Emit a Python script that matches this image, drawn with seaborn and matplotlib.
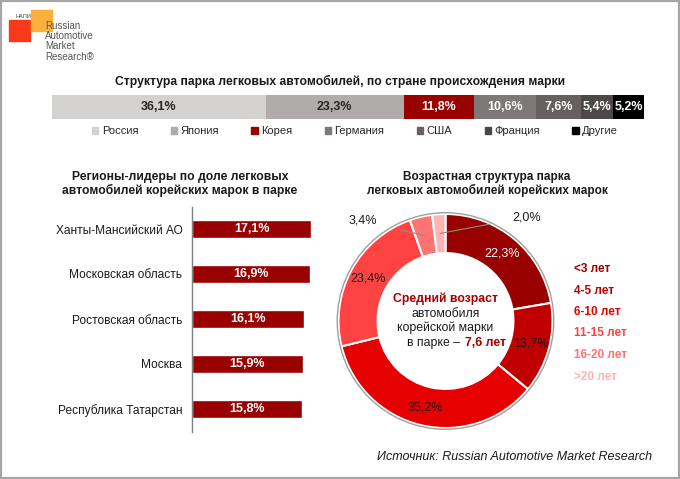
import matplotlib
matplotlib.use('Agg')
import matplotlib.pyplot as plt
import matplotlib.patches as mpatches
import seaborn as sns
import numpy as np

# --- data -------------------------------------------------------------
brands = ['Россия', 'Япония', 'Корея', 'Германия', 'США', 'Франция', 'Другие']
brand_share = [36.1, 23.3, 11.8, 10.6, 7.6, 5.4, 5.2]
brand_colors = ['#d4d1d1', '#b1acac', '#990000', '#7f7878', '#666060', '#4d4848', '#000000']
brand_text = ['#262626', '#262626', 'white', 'white', 'white', 'white', 'white']

regions = ['Ханты-Мансийский АО', 'Московская область', 'Ростовская область',
           'Москва', 'Республика Татарстан']
region_share = [17.1, 16.9, 16.1, 15.9, 15.8]

age_groups = ['<3 лет', '4-5 лет', '6-10 лет', '11-15 лет', '16-20 лет', '>20 лет']
age_share = [22.3, 13.7, 35.2, 23.4, 3.4, 2.0]
age_colors = ['#990000', '#c00000', '#e60000', '#ff4343', '#ff7373', '#ffb3b3']

DARK_RED = '#990000'
W, H = 680, 479


def fx(px):
    return px / W


def fy(py):
    return 1 - py / H


def pct(v):
    return f'{v:.1f}%'.replace('.', ',')


sns.set_theme(style='white')
plt.rcParams['font.family'] = ['Liberation Sans', 'DejaVu Sans']

fig = plt.figure(figsize=(W / 100, H / 100), dpi=100)

# --- top stacked bar -------------------------------------------------
ax_top = fig.add_axes([fx(52), fy(119), fx(592), 24 / H])
left = 0
for name, v, c, tc in zip(brands, brand_share, brand_colors, brand_text):
    bars = ax_top.barh([0], [v], left=left, height=1.0, color=c, label=name, edgecolor='none')
    ax_top.bar_label(bars, labels=[pct(v)], label_type='center', color=tc,
                     fontsize=9, fontweight='bold')
    left += v
ax_top.set_xlim(0, sum(brand_share))
ax_top.set_ylim(-0.5, 0.5)
ax_top.axis('off')
handles = [mpatches.Patch(color=c, label=b) for b, c in zip(brands, brand_colors)]
fig.legend(handles=handles, loc='center', bbox_to_anchor=(fx(355), fy(131)), ncol=7,
           frameon=False, fontsize=8, handlelength=0.6, handleheight=0.6,
           handletextpad=0.3, columnspacing=2.9)
fig.text(fx(340), fy(81), 'Структура парка легковых автомобилей, по стране происхождения марки',
         ha='center', va='center', fontsize=8.7, fontweight='bold', color='#1a1a1a')

# --- left: regions bar chart -----------------------------------------
ax_reg = fig.add_axes([fx(192), fy(431.5), fx(140), 225 / H])
sns.barplot(x=region_share, y=regions, orient='h', color=DARK_RED, saturation=1,
            width=0.4, ax=ax_reg)
ax_reg.bar_label(ax_reg.containers[0], labels=[pct(v) for v in region_share],
                 label_type='center', color='white', fontsize=9, fontweight='bold')
ax_reg.set_xlim(0, 20.1)
ax_reg.set_ylim(4.5, -0.5)
for s in ['top', 'right', 'bottom']:
    ax_reg.spines[s].set_visible(False)
ax_reg.spines['left'].set_color('#808080')
ax_reg.spines['left'].set_linewidth(1)
ax_reg.set_xticks([])
ax_reg.tick_params(axis='y', length=0, pad=7, labelsize=8.6, labelcolor='#1a1a1a')
ax_reg.set_xlabel('')
ax_reg.set_ylabel('')
fig.text(fx(180), fy(184), 'Регионы-лидеры по доле легковых\nавтомобилей корейских марок в парке',
         ha='center', va='center', fontsize=8.7, fontweight='bold', color='#1a1a1a',
         linespacing=1.15)

# --- right: donut ----------------------------------------------------
cx, cy, R = 445.5, 321, 107
half = 120
ax_pie = fig.add_axes([fx(cx - half), fy(cy + half), fx(2 * half), 2 * half / H])
lim = half / R
wedges, texts, autotexts = ax_pie.pie(
    age_share, colors=age_colors, startangle=90, counterclock=False, radius=1,
    wedgeprops=dict(width=0.365, edgecolor='white', linewidth=1.5),
    autopct=lambda p: pct(p) if p > 5 else '', pctdistance=0.825,
    textprops=dict(fontsize=9, color='#1a1a1a'))
autotexts[0].set_color('white')
ax_pie.add_patch(mpatches.Circle((0, 0), 1.012, fill=False, ec='#a0a0a0', lw=1))
ax_pie.set_xlim(-lim, lim)
ax_pie.set_ylim(-lim, lim)
ax_pie.set_aspect('equal')
ax_pie.axis('off')

# leader lines for the two small slices
for idx, txt_xy in [(4, (-0.77, 0.935)), (5, (0.76, 0.97))]:
    w = wedges[idx]
    ang = np.deg2rad((w.theta1 + w.theta2) / 2)
    pt = (0.82 * np.cos(ang), 0.82 * np.sin(ang))
    ax_pie.annotate(pct(age_share[idx]), xy=pt, xytext=txt_xy, ha='center', va='center',
                    fontsize=9, color='#1a1a1a', annotation_clip=False,
                    arrowprops=dict(arrowstyle='-', color='#8c8c8c', lw=0.8,
                                    shrinkA=14, shrinkB=0))

ax_pie.text(0, 0.206, 'Средний возраст', ha='center', va='center', fontsize=8.8,
            fontweight='bold', color='#a50000')
ax_pie.text(0, 0.065, 'автомобиля', ha='center', va='center', fontsize=8.8, color='#1a1a1a')
ax_pie.text(0, -0.065, 'корейской марки', ha='center', va='center', fontsize=8.8, color='#1a1a1a')
ax_pie.text(0.165, -0.206, 'в парке – ', ha='right', va='center', fontsize=8.8, color='#1a1a1a')
ax_pie.text(0.18, -0.206, '7,6 лет', ha='left', va='center', fontsize=8.8,
            fontweight='bold', color='#a50000')

fig.text(fx(487), fy(184), 'Возрастная структура парка\nлегковых автомобилей корейских марок',
         ha='center', va='center', fontsize=8.5, fontweight='bold', color='#1a1a1a',
         linespacing=1.15)

# age legend (coloured labels)
for i, (g, c) in enumerate(zip(age_groups, age_colors)):
    fig.text(fx(574), fy(269 + 21.5 * i), g, ha='left', va='center', fontsize=8.5,
             fontweight='bold', color=c)

# --- source, logo, frame ---------------------------------------------
fig.text(fx(652), fy(457), 'Источник: Russian Automotive Market Research', ha='right',
         va='center', fontsize=9, style='italic', color='#1a1a1a')

fig.add_artist(mpatches.Rectangle((fx(9), fy(41)), fx(21), 21 / H, color='#f93a1a',
                                  transform=fig.transFigure))
fig.add_artist(mpatches.Rectangle((fx(31), fy(31)), fx(21), 21 / H, color='#fbb03b',
                                  transform=fig.transFigure))
fig.text(fx(15), fy(16), 'НАПИ', fontsize=4, color='#404040', va='center')
for i, line in enumerate(['Russian', 'Automotive', 'Market', 'Research®']):
    fig.text(fx(45), fy(26 + 10.2 * i), line, fontsize=7, color='#555555', va='center')

fig.add_artist(mpatches.Rectangle((0, 0), 1, 1, transform=fig.transFigure, fill=False,
                                  ec='#a6a6a6', lw=3))

fig.savefig('out.png', dpi=100)
